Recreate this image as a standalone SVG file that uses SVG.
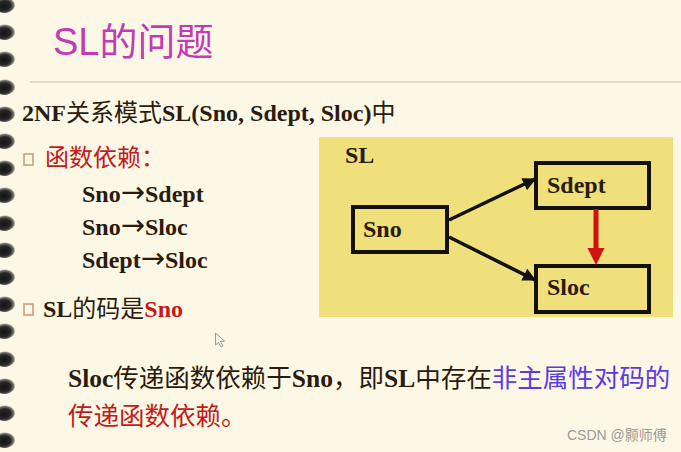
<svg xmlns="http://www.w3.org/2000/svg" xmlns:xlink="http://www.w3.org/1999/xlink" width="681" height="452" viewBox="0 0 681 452">
<style>
.t{font-family:"Liberation Serif","Noto Sans CJK SC",serif;fill:#2b1b0e;font-size:24px}
.big{font-size:25.5px}
.b{font-weight:bold}
.cj{font-family:"Noto Sans CJK SC",sans-serif}
.ar{font-family:"DejaVu Sans",sans-serif;font-weight:normal;font-size:29px}
.red{fill:#c41a1a}
.blue{fill:#5a3ce6}
.box{fill:none;stroke:#141008;stroke-width:4}
.lbl{font-family:"Liberation Serif",serif;font-weight:bold;font-size:24px;fill:#2b1b0e}
.bul{fill:none;stroke:#c49a74;stroke-width:1.5}
</style>
<defs>
<radialGradient id="hg" cx="0.45" cy="0.55" r="0.55">
<stop offset="0" stop-color="#121212"/>
<stop offset="0.6" stop-color="#2a2a2a"/>
<stop offset="0.85" stop-color="#505050" stop-opacity="0.75"/>
<stop offset="1" stop-color="#888" stop-opacity="0"/>
</radialGradient>
<ellipse id="hole" cx="0" cy="0" rx="10.5" ry="8" fill="url(#hg)" transform="rotate(-8)"/>
<marker id="ah" viewBox="0 0 10 10" refX="9" refY="5" markerWidth="4.4" markerHeight="3.8" orient="auto" markerUnits="strokeWidth">
<path d="M0,0 L10,5 L0,10 z" fill="#111"/>
</marker>
</defs>
<rect width="681" height="452" fill="#fcf8e5"/>
<g id="binder">
<use xlink:href="#hole" x="5" y="5"/>
<use xlink:href="#hole" x="5" y="32"/>
<use xlink:href="#hole" x="5" y="59"/>
<use xlink:href="#hole" x="5" y="87"/>
<use xlink:href="#hole" x="5" y="114"/>
<use xlink:href="#hole" x="5" y="141"/>
<use xlink:href="#hole" x="5" y="168"/>
<use xlink:href="#hole" x="5" y="195"/>
<use xlink:href="#hole" x="5" y="223"/>
<use xlink:href="#hole" x="5" y="250"/>
<use xlink:href="#hole" x="5" y="277"/>
<use xlink:href="#hole" x="5" y="304"/>
<use xlink:href="#hole" x="5" y="331"/>
<use xlink:href="#hole" x="5" y="359"/>
<use xlink:href="#hole" x="5" y="386"/>
<use xlink:href="#hole" x="5" y="413"/>
<use xlink:href="#hole" x="5" y="440"/>
</g>
<g id="title">
<text x="53" y="55" font-family="'Liberation Sans','Noto Sans CJK SC',sans-serif" font-size="38" fill="#c23ab8">SL的问题</text>
<line x1="30" y1="82" x2="681" y2="82" stroke="#c9c4b2" stroke-width="1.2"/>
</g>
<g id="heading">
<text class="t" x="22" y="121"><tspan class="b">2NF</tspan><tspan class="cj">关系模式</tspan><tspan class="b">SL(Sno, Sdept, Sloc)</tspan><tspan class="cj">中</tspan></text>
</g>
<g id="fd-list">
<rect class="bul" x="24" y="154" width="9" height="11"/>
<text class="t red cj" x="45" y="166">函数依赖：</text>
<text class="t b" x="82" y="202">Sno<tspan class="ar">→</tspan>Sdept</text>
<text class="t b" x="82" y="235">Sno<tspan class="ar">→</tspan>Sloc</text>
<text class="t b" x="82" y="268">Sdept<tspan class="ar">→</tspan>Sloc</text>
<rect class="bul" x="24" y="304" width="9" height="11"/>
<text class="t" x="43" y="317"><tspan class="b">SL</tspan><tspan class="cj">的码是</tspan><tspan class="b red">Sno</tspan></text>
</g>
<g id="panel">
<rect x="319" y="137" width="354" height="180" fill="#efe07c"/>
<text class="lbl" x="345" y="163">SL</text>
</g>
<g id="node-sno">
<rect class="box" x="353" y="207" width="94" height="45"/>
<text class="lbl" x="363" y="237">Sno</text>
</g>
<g id="node-sdept">
<rect class="box" x="536" y="163" width="113" height="45"/>
<text class="lbl" x="547" y="193">Sdept</text>
</g>
<g id="node-sloc">
<rect class="box" x="536" y="266" width="113" height="46"/>
<text class="lbl" x="547" y="295">Sloc</text>
</g>
<g id="connectors">
<line x1="449" y1="220" x2="535" y2="179" stroke="#111" stroke-width="3.5" marker-end="url(#ah)"/>
<line x1="449" y1="237" x2="535" y2="280" stroke="#111" stroke-width="3.5" marker-end="url(#ah)"/>
<line x1="596" y1="209" x2="596" y2="250" stroke="#d01212" stroke-width="5"/>
<path d="M587.5,248 L604.5,248 L596,265 z" fill="#d01212"/>
</g>
<g id="conclusion">
<text class="t big" x="68" y="387"><tspan class="b">Sloc</tspan><tspan class="cj">传递函数依赖于</tspan><tspan class="b">Sno</tspan><tspan class="cj">，即</tspan><tspan class="b">SL</tspan><tspan class="cj">中存在</tspan><tspan class="cj blue">非主属性对码的</tspan></text>
<text class="t big red cj" x="68" y="424.5">传递函数依赖。</text>
</g>
<g id="cursor">
<path d="M215.5,333 L215.5,345 L218.5,342.5 L221,347 L223,346 L220.5,341.5 L224.5,341 z" fill="#f4f1e6" stroke="#9a9a9a" stroke-width="1"/>
</g>
<text x="567" y="440" font-family="'Liberation Sans','Noto Sans CJK SC',sans-serif" font-size="14" fill="#9a9a9a">CSDN @颢师傅</text>
</svg>
